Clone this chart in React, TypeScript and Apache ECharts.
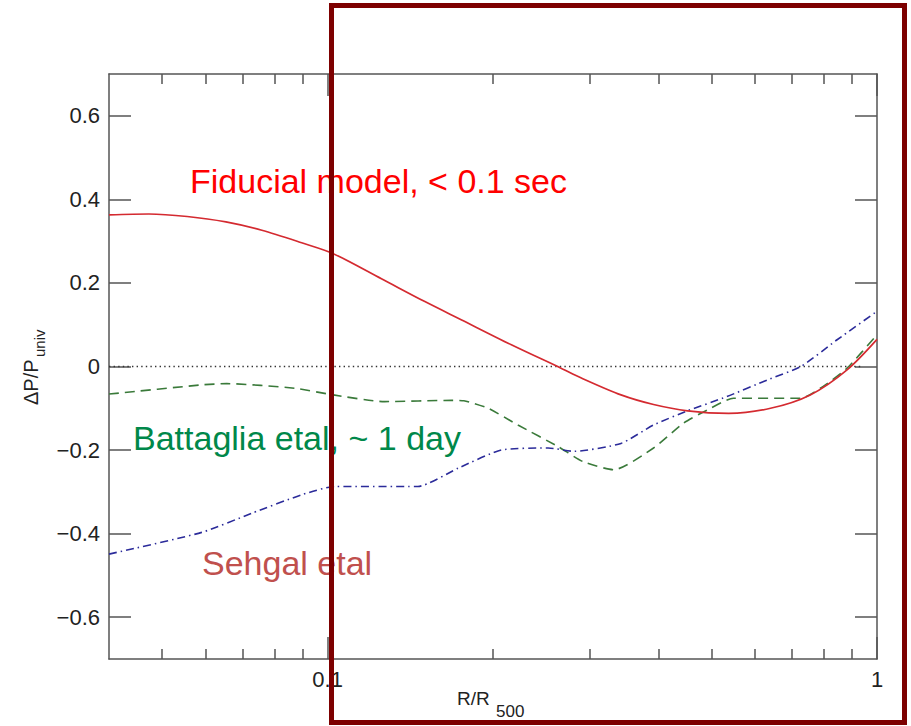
import React, { useEffect, useRef } from "react";
import * as echarts from "echarts";

// Radius in units of R500 (log-spaced axis) and fractional pressure deviation
const fiducialR = [0.04, 0.0473, 0.0555, 0.0653, 0.0759, 0.0897, 0.1024, 0.1253, 0.15, 0.175, 0.216, 0.266, 0.289, 0.342, 0.392, 0.452, 0.537, 0.64, 0.756, 0.882, 1.0];
const fiducialDP = [0.363, 0.365, 0.359, 0.346, 0.326, 0.296, 0.27, 0.21, 0.156, 0.112, 0.052, -0.004, -0.027, -0.068, -0.091, -0.106, -0.112, -0.1, -0.068, -0.008, 0.065];

const battagliaR = [0.04, 0.059, 0.0655, 0.0871, 0.1024, 0.127, 0.168, 0.177, 0.196, 0.222, 0.263, 0.292, 0.332, 0.392, 0.444, 0.491, 0.548, 0.727, 0.797, 0.882, 1.0];
const battagliaDP = [-0.066, -0.044, -0.041, -0.052, -0.068, -0.084, -0.081, -0.082, -0.1, -0.14, -0.192, -0.228, -0.247, -0.195, -0.136, -0.104, -0.076, -0.076, -0.048, -0.004, 0.076];

const sehgalR = [0.04, 0.059, 0.0728, 0.0897, 0.103, 0.146, 0.173, 0.207, 0.252, 0.281, 0.342, 0.392, 0.452, 0.533, 0.632, 0.727, 0.846, 1.0];
const sehgalDP = [-0.449, -0.397, -0.351, -0.307, -0.287, -0.287, -0.243, -0.2, -0.195, -0.203, -0.184, -0.14, -0.106, -0.072, -0.032, 0.0, 0.064, 0.132];

const zeroR = [0.04, 0.94];
const zeroDP = [0, 0];

// Axis ranges and ticks
const xRange = [0.04, 1];
const xMajorTicks = [0.1, 1];
const xMajorLabels = ["0.1", "1"];
const xMinorTicks = [0.05, 0.06, 0.07, 0.08, 0.09, 0.2, 0.3, 0.4, 0.5, 0.6, 0.7, 0.8, 0.9];
const yRange = [-0.7, 0.7];
const yTicks = [-0.6, -0.4, -0.2, 0, 0.2, 0.4, 0.6];

const FONT = "'Liberation Sans', Arial, Helvetica, sans-serif";
const FRAME = "#555555";
// offset from the alphabetic baseline to the vertical middle of a text line
const MID = 0.3465;

const lg = (r: number) => Math.log10(r);
const pairs = (rs: number[], vs: number[]) => rs.map((r, i) => [lg(r), vs[i]]);

const fmtY = (v: number) => {
  const r = Math.round(v * 10) / 10;
  if (r === 0) return "0";
  return (r < 0 ? "\u2212" : "") + Math.abs(r).toFixed(1);
};
const fmtX = (v: number) => {
  const idx = xMajorTicks.findIndex((t) => Math.abs(lg(t) - v) < 1e-6);
  return idx >= 0 ? xMajorLabels[idx] : "";
};

// text element placed by its baseline
function baselineText(text: string, x: number, baseline: number, size: number, color: string, z = 10) {
  return {
    type: "text",
    x,
    y: baseline - MID * size,
    z,
    style: {
      text,
      fontFamily: FONT,
      fontSize: size,
      fill: color,
      align: "left",
      verticalAlign: "middle",
    },
  };
}

function xAxisDef(position: "top" | "bottom", major: boolean, labels: boolean) {
  return {
    type: "value",
    position,
    offset: 0,
    min: lg(xRange[0]),
    max: lg(xRange[1]),
    axisLine: { show: major, onZero: false, lineStyle: { color: FRAME, width: 1.5 } },
    axisTick: {
      show: true,
      inside: true,
      length: major ? 22 : 10,
      customValues: (major ? xMajorTicks : xMinorTicks).map(lg),
      lineStyle: { color: FRAME, width: 1.5 },
    },
    axisLabel: {
      show: labels,
      customValues: xMajorTicks.map(lg),
      formatter: fmtX,
      margin: 9,
      fontFamily: FONT,
      fontSize: 22,
      color: "#222222",
    },
    splitLine: { show: false },
  };
}

function yAxisDef(position: "left" | "right", labels: boolean) {
  return {
    type: "value",
    position,
    offset: 0,
    min: yRange[0],
    max: yRange[1],
    axisLine: { show: true, onZero: false, lineStyle: { color: FRAME, width: 1.5 } },
    axisTick: {
      show: true,
      inside: true,
      length: 22,
      customValues: yTicks,
      lineStyle: { color: FRAME, width: 1.5 },
    },
    axisLabel: {
      show: labels,
      customValues: yTicks,
      formatter: fmtY,
      margin: 9,
      fontFamily: FONT,
      fontSize: 22,
      color: "#222222",
    },
    splitLine: { show: false },
  };
}

export default function App() {
  const ref = useRef<HTMLDivElement>(null);

  useEffect(() => {
    if (!ref.current) return;
    const chart = echarts.init(ref.current, undefined, { renderer: "svg" });

    const option = {
      animation: false,
      backgroundColor: "#ffffff",
      grid: { left: 109, top: 74, right: 34, bottom: 67, containLabel: false, outerBoundsMode: "none" },
      xAxis: [
        xAxisDef("bottom", true, true),
        xAxisDef("bottom", false, false),
        xAxisDef("top", true, false),
        xAxisDef("top", false, false),
      ],
      yAxis: [yAxisDef("left", true), yAxisDef("right", false)],
      series: [
        {
          name: "zero",
          type: "line",
          data: pairs(zeroR, zeroDP),
          symbol: "none",
          lineStyle: { color: "#333333", width: 1.6, type: [1.4, 3.2] },
          z: 1,
        },
        {
          name: "Battaglia etal",
          type: "line",
          data: pairs(battagliaR, battagliaDP),
          symbol: "none",
          smooth: 0.2,
          lineStyle: { color: "#3a7a3a", width: 1.6, type: [10, 6] },
          z: 2,
        },
        {
          name: "Sehgal etal",
          type: "line",
          data: pairs(sehgalR, sehgalDP),
          symbol: "none",
          smooth: 0.2,
          lineStyle: { color: "#2b2b9a", width: 1.6, type: [8, 4, 1.5, 4] },
          z: 3,
        },
        {
          name: "Fiducial model",
          type: "line",
          data: pairs(fiducialR, fiducialDP),
          symbol: "none",
          smooth: 0.3,
          lineStyle: { color: "#d42a30", width: 1.7, type: "solid" },
          z: 4,
        },
      ],
      graphic: [
        // y-axis title, reading bottom to top
        {
          type: "group",
          x: 38,
          y: 405,
          rotation: Math.PI / 2,
          children: [
            baselineText("\u0394P/P", 0, 0, 20, "#222222"),
            baselineText("univ", 48, 7, 15, "#222222"),
          ],
        },
        // x-axis title
        {
          type: "group",
          x: 457,
          y: 705,
          children: [
            baselineText("R/R", 0, 0, 19, "#222222"),
            baselineText("500", 39, 12, 17, "#222222"),
          ],
        },
        // curve annotations
        baselineText("Fiducial model, < 0.1 sec", 190, 193, 34, "#ff0000"),
        baselineText("Battaglia etal, ~ 1 day", 133, 450, 34, "#00884a"),
        baselineText("Sehgal etal", 202, 575, 34, "#c0504d"),
        // highlight box
        {
          type: "rect",
          z: 100,
          shape: { x: 331.5, y: 5.5, width: 573, height: 717 },
          style: { fill: "none", stroke: "#7d0000", lineWidth: 5 },
        },
      ],
    };

    chart.setOption(option as any);
    return () => chart.dispose();
  }, []);

  return (
    <div
      ref={ref}
      style={{ position: "fixed", left: 0, top: 0, width: 911, height: 726, background: "#ffffff" }}
    />
  );
}
